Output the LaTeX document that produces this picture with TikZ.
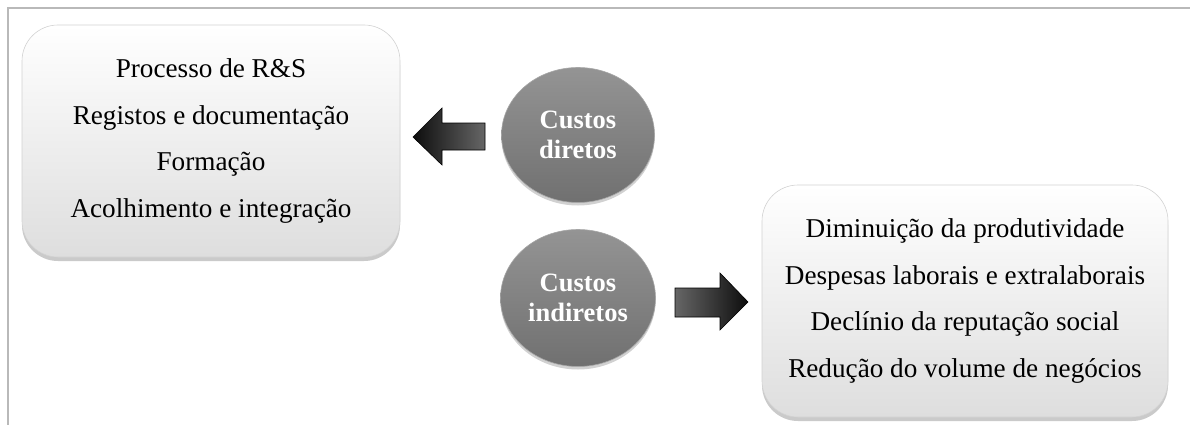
\documentclass[tikz,border=0pt]{standalone}
\usepackage{fontspec}
\setmainfont{Liberation Serif}
\usetikzlibrary{shadows,shapes.geometric}
\tikzset{
  box/.style={rounded corners=36pt, draw=gray!35, line width=0.6pt,
    top color=white, bottom color=gray!26, align=center,
    font=\fontsize{27.2}{46.5}\selectfont, inner sep=0pt,
    drop shadow={shadow xshift=0pt, shadow yshift=-4pt, opacity=0.35, fill=black!60}},
  bubble/.style={ellipse, draw=gray!70, line width=0.6pt,
    top color=black!42, bottom color=black!56, text=white, align=center,
    font=\fontsize{26.5}{30}\selectfont\bfseries, inner sep=0pt,
    drop shadow={shadow xshift=0pt, shadow yshift=-3pt, opacity=0.3, fill=black!60}},
  arrowbody/.style={draw=black, line width=0.6pt, left color=black!95, right color=black!60, line join=miter},
  arrowbodyR/.style={draw=black, line width=0.6pt, left color=black!60, right color=black!95, line join=miter},
  frame/.style={draw=gray!55, line width=1.5pt}
}
\begin{document}
\begin{tikzpicture}[x=1pt,y=-1pt]
\useasboundingbox (0,0) rectangle (1190,425);
% frame
\coordinate (fb) at (8,425);
\coordinate (fc) at (8,8);
\coordinate (fr) at (1190,8);
\draw[frame] (fb) -- (fc) -- (fr);

% boxes
\node[box, minimum width=378pt, minimum height=232pt] (direct) at (211,141)
  {Processo de R\&S\\Registos e documentação\\Formação\\Acolhimento e integração};
\node[box, minimum width=406pt, minimum height=232pt] (indirect) at (965,301)
  {Diminuição da produtividade\\Despesas laborais e extralaborais\\Declínio da reputação social\\Redução do volume de negócios};

% bubbles
\node[bubble, minimum width=153pt, minimum height=135pt] (cd) at (578,135) {Custos\\diretos};
\node[bubble, minimum width=155pt, minimum height=137pt] (ci) at (578,298) {Custos\\indiretos};

% left arrow
\path[arrowbody] (413,137) -- (442,108) -- (442,123) -- (485,123) -- (485,150) -- (442,150) -- (442,165) -- cycle;
% right arrow
\path[arrowbodyR] (748,302) -- (720,273) -- (720,288) -- (675,288) -- (675,317) -- (720,317) -- (720,330) -- cycle;
\end{tikzpicture}
\end{document}
